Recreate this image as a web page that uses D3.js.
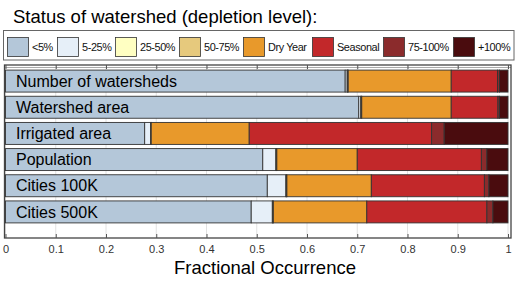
<!DOCTYPE html>
<html><head><meta charset="utf-8">
<script src="https://cdn.jsdelivr.net/npm/d3@7"></script>
<style>body{margin:0;background:#fff}svg{display:block;font-family:"Liberation Sans",Arial,sans-serif}</style>
</head><body><svg id="c" width="520" height="283"></svg>
<script>
const categories = ["Number of watersheds","Watershed area","Irrigated area","Population","Cities 100K","Cities 500K"];
const levels = ["<5%","5-25%","25-50%","50-75%","Dry Year","Seasonal","75-100%","+100%"];
const colors = ["#b4c7d9","#e6eff8","#ffffc2","#e6c97d","#e8992b","#c2282a","#8b2b2c","#4a0c0e"];
const lt5      = [0.676,0.703,0.277,0.512,0.521,0.489];
const p5_25    = [0.004,0.004,0.012,0.026,0.037,0.042];
const p25_50   = [0.001,0.001,0.0005,0.001,0.001,0.001];
const p50_75   = [0.001,0.001,0.0005,0.001,0.001,0.001];
const dryYear  = [0.205,0.178,0.195,0.160,0.168,0.186];
const seasonal = [0.092,0.093,0.363,0.247,0.225,0.239];
const p75_100  = [0.004,0.003,0.025,0.011,0.009,0.012];
const p100     = [0.017,0.017,0.127,0.042,0.038,0.030];
const xTicks = [0,0.1,0.2,0.3,0.4,0.5,0.6,0.7,0.8,0.9,1];
const xTickLabels = ["0","0.1","0.2","0.3","0.4","0.5","0.6","0.7","0.8","0.9","1"];
const title = "Status of watershed (depletion level):";
const xTitle = "Fractional Occurrence";

const series = [lt5,p5_25,p25_50,p50_75,dryYear,seasonal,p75_100,p100];
const rows = categories.map((c,i)=>{const r={cat:c}; levels.forEach((l,j)=>r[l]=series[j][i]); return r;});
const stacked = d3.stack().keys(levels)(rows);

const svg = d3.select("#c");
const x = d3.scaleLinear().domain([0,1]).range([5.5,508]);
const y = d3.scaleBand().domain(categories).range([68,225]).paddingInner(0.16).paddingOuter(0.08);
const frame = {top:65,bottom:238,left:4.5,right:511};

// title
svg.append("text").attr("x",13).attr("y",23).attr("font-size",18.5).attr("fill","#000").text(title);

// legend
svg.append("rect").attr("x",3.5).attr("y",30.5).attr("width",510.5).attr("height",29.5)
  .attr("fill","#fff").attr("stroke","#666").attr("stroke-width",1);
const legX = [7,57,115,179,243,312,383,453];
const lg = svg.append("g").selectAll("g").data(levels).join("g")
  .attr("transform",(d,i)=>`translate(${legX[i]},37)`);
lg.append("rect").attr("x",0.5).attr("y",0.5).attr("width",21).attr("height",19)
  .attr("fill",(d,i)=>colors[i]).attr("stroke","#333").attr("stroke-width",0.8);
lg.append("text").attr("x",25).attr("y",14.2).attr("font-size",10.9).attr("letter-spacing",-0.4).attr("fill","#111").text(d=>d);

// gridlines
svg.append("g").selectAll("line").data(xTicks).join("line")
  .attr("x1",d=>x(d)).attr("x2",d=>x(d)).attr("y1",frame.top).attr("y2",frame.bottom)
  .attr("stroke","#e2e2e2").attr("stroke-width",1);
svg.append("line").attr("x1",frame.left).attr("x2",frame.right).attr("y1",67.5).attr("y2",67.5)
  .attr("stroke","#aaa").attr("stroke-width",1);

// bars
svg.append("g").selectAll("g").data(stacked).join("g")
  .attr("fill",(d,i)=>colors[i])
  .selectAll("rect").data(d=>d).join("rect")
  .attr("x",d=>x(d[0])).attr("width",d=>Math.max(0,x(d[1])-x(d[0])))
  .attr("y",d=>y(d.data.cat)).attr("height",y.bandwidth())
  .attr("stroke","#333").attr("stroke-width",0.9);

// labels
svg.append("g").selectAll("text").data(categories).join("text")
  .attr("x",16).attr("y",d=>y(d)+y.bandwidth()/2+5.7).attr("font-size",16).attr("fill","#000").text(d=>d);

// frame
svg.append("rect").attr("x",frame.left).attr("y",frame.top).attr("width",frame.right-frame.left)
  .attr("height",frame.bottom-frame.top).attr("fill","none").attr("stroke","#444").attr("stroke-width",1.3);

// axis
const ax = d3.axisBottom(x).tickValues(xTicks).tickFormat((d,i)=>xTickLabels[i]).tickSizeInner(-4).tickSizeOuter(0).tickPadding(7);
const axG = svg.append("g").attr("transform",`translate(0,${frame.bottom})`).call(ax);
axG.select(".domain").remove();
axG.selectAll(".tick line").attr("stroke","#555");
axG.selectAll(".tick text").attr("font-size",11).attr("fill","#333").attr("font-family","Liberation Sans, Arial, sans-serif");
const axT = d3.axisTop(x).tickValues(xTicks).tickFormat("").tickSizeInner(-4).tickSizeOuter(0);
const axTG = svg.append("g").attr("transform",`translate(0,${frame.top})`).call(axT);
axTG.select(".domain").remove();
axTG.selectAll(".tick line").attr("stroke","#555");

svg.append("text").attr("x",265).attr("y",274).attr("text-anchor","middle").attr("font-size",18.5).attr("fill","#000").text(xTitle);
</script></body></html>
